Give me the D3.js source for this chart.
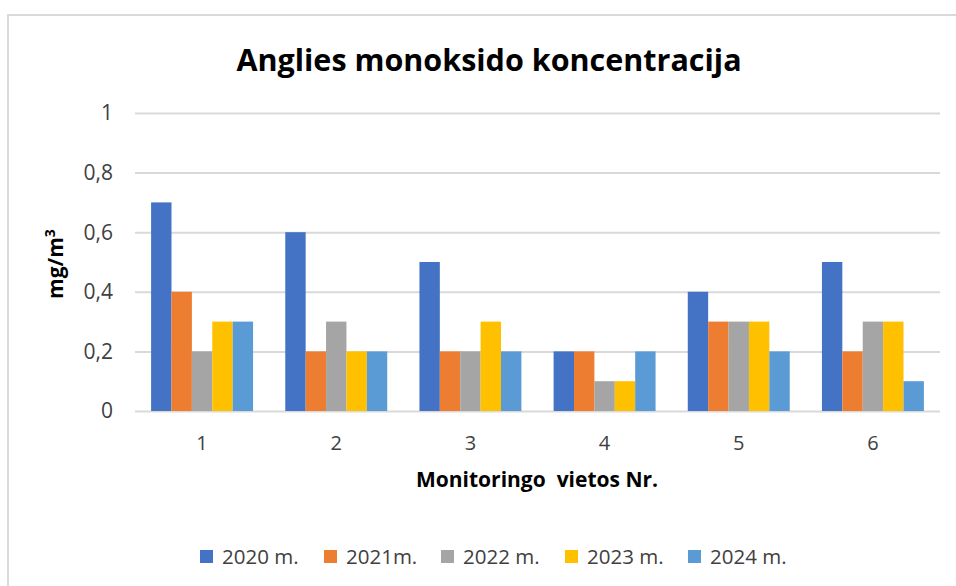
<!DOCTYPE html>
<html>
<head>
<meta charset="utf-8">
<script src="https://cdn.jsdelivr.net/npm/d3@7"></script>
<style>
body { margin: 0; background: #fff; }
text { font-family: "Open Sans", sans-serif; fill: #404040; }
</style>
</head>
<body>
<div id="chart"></div>
<script>
var width = 956;
var height = 586;

// duomenys
var vietos = ["1", "2", "3", "4", "5", "6"];
var metai = ["2020 m.", "2021m.", "2022 m.", "2023 m.", "2024 m."];
var v2020 = [0.7, 0.6, 0.5, 0.2, 0.4, 0.5];
var v2021 = [0.4, 0.2, 0.2, 0.2, 0.3, 0.2];
var v2022 = [0.2, 0.3, 0.2, 0.1, 0.3, 0.3];
var v2023 = [0.3, 0.2, 0.3, 0.1, 0.3, 0.3];
var v2024 = [0.3, 0.2, 0.2, 0.2, 0.2, 0.1];
var yTicks = [0, 0.2, 0.4, 0.6, 0.8, 1];
var spalvos = ["#4472c4", "#ed7d31", "#a5a5a5", "#ffc000", "#5b9bd5"];

var serijos = [v2020, v2021, v2022, v2023, v2024];

var svg = d3.select("#chart")
	.append("svg")
	.attr("width", width)
	.attr("height", height);

// remelis
svg.append("path")
	.attr("d", "M8,586 V15 H956")
	.attr("fill", "none")
	.attr("stroke", "#d9d9d9")
	.attr("stroke-width", 2);

var x0 = d3.scaleBand().domain(vietos).range([135, 940]).paddingInner(0.24).paddingOuter(0.12);
var x1 = d3.scaleBand().domain(d3.range(metai.length)).range([0, x0.bandwidth()]);
var y = d3.scaleLinear().domain([0, 1]).range([411, 113]);

var spalva = d3.scaleOrdinal().domain(d3.range(metai.length)).range(spalvos);

// tinklelis
var grid = svg.append("g")
	.attr("transform", "translate(135,0)")
	.call(d3.axisLeft(y).tickValues(yTicks).tickSize(-805).tickFormat(""));
grid.select(".domain").remove();
grid.selectAll("line").attr("stroke", "#d9d9d9").attr("stroke-width", 2);

// y asies zymes
svg.append("g").selectAll("text")
	.data(yTicks)
	.enter().append("text")
	.attr("x", 113)
	.attr("y", function(d) { return y(d); })
	.attr("dy", "0.35em")
	.attr("text-anchor", "end")
	.style("font-size", "21px")
	.text(function(d) { return d3.format("")(d).replace(".", ","); });

// stulpeliai
var grupes = svg.append("g").selectAll("g")
	.data(vietos)
	.enter().append("g")
	.attr("transform", function(d) { return "translate(" + x0(d) + ",0)"; });

grupes.selectAll("rect")
	.data(function(d, i) { return serijos.map(function(s, j) { return { j: j, v: s[i] }; }); })
	.enter().append("rect")
	.attr("x", function(d) { return x1(d.j); })
	.attr("y", function(d) { return y(d.v); })
	.attr("width", x1.bandwidth())
	.attr("height", function(d) { return y(0) - y(d.v); })
	.attr("fill", function(d) { return spalva(d.j); });

// x asies zymes
svg.append("g").selectAll("text")
	.data(vietos)
	.enter().append("text")
	.attr("x", function(d) { return x0(d) + x0.bandwidth() / 2; })
	.attr("y", 450)
	.attr("text-anchor", "middle")
	.style("font-size", "20px")
	.text(function(d) { return d; });

// pavadinimas
svg.append("text")
	.attr("x", 489)
	.attr("y", 71)
	.attr("text-anchor", "middle")
	.style("font-size", "30.5px")
	.style("font-weight", "bold")
	.style("fill", "#000")
	.text("Anglies monoksido koncentracija");

svg.append("text")
	.attr("x", 537)
	.attr("y", 487)
	.attr("text-anchor", "middle")
	.style("font-size", "21px")
	.style("font-weight", "bold")
	.style("white-space", "pre")
	.style("fill", "#000")
	.text("Monitoringo  vietos Nr.");

var yl = svg.append("text")
	.attr("transform", "translate(63,264) rotate(-90)")
	.attr("text-anchor", "middle")
	.style("font-size", "21px")
	.style("font-weight", "bold")
	.style("fill", "#000");
yl.append("tspan").text("mg/m");
yl.append("tspan").attr("dy", "-8").style("font-size", "14px").text("3");

// legenda
var legX = [200, 324, 441, 565, 688];
var leg = svg.append("g").selectAll("g")
	.data(metai)
	.enter().append("g")
	.attr("transform", function(d, i) { return "translate(" + legX[i] + ",550)"; });
leg.append("rect")
	.attr("width", 13).attr("height", 13)
	.attr("fill", function(d, i) { return spalva(i); });
leg.append("text")
	.attr("x", 22).attr("y", 7).attr("dy", "0.35em")
	.style("font-size", "20.5px")
	.text(function(d) { return d; });
</script>
</body>
</html>
